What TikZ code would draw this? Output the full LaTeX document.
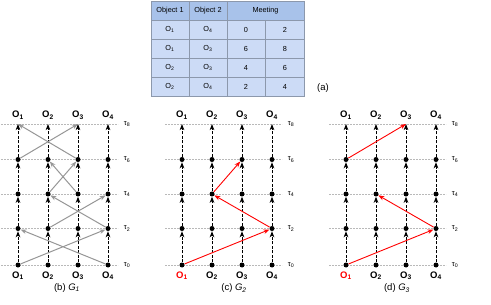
\documentclass[tikz,border=0pt]{standalone}
\usepackage{fontspec}
\setmainfont{Liberation Sans}
\usepackage{xcolor}
\definecolor{tbhead}{RGB}{168,194,234}
\definecolor{tbbody}{RGB}{204,219,246}
\definecolor{tbgrid}{RGB}{140,152,172}
\definecolor{meetgray}{RGB}{150,150,150}
\definecolor{tlgray}{RGB}{185,185,185}
\usepackage{tikz}
\usetikzlibrary{arrows.meta, positioning}

\begin{document}
\begin{tikzpicture}[x=1pt, y=-1pt,
    dot/.style={circle, fill=black, inner sep=0pt, minimum size=5pt},
    life/.style={black, line width=1pt, dash pattern=on 3pt off 1.5pt,
      -{Stealth[length=6pt, width=4.5pt, inset=1.5pt]}},
    tline/.style={tlgray, line width=0.5pt, dash pattern=on 2pt off 1pt},
    meetg/.style={meetgray, line width=1pt, -{Stealth[length=6pt, width=4.5pt]}},
    meetr/.style={red, line width=0.9pt, -{Stealth[length=6pt, width=4.5pt]}},
    objlab/.style={font=\fontsize{9.5}{10}\selectfont\bfseries, inner sep=0pt},
    taulab/.style={font=\fontsize{7.5}{8}\selectfont, inner sep=0pt},
    caplab/.style={font=\fontsize{9.5}{10}\selectfont, inner sep=0pt},
    cell/.style={font=\fontsize{7.3}{8}\selectfont, inner sep=0pt}]
  \useasboundingbox (0,0) rectangle (491,305);

  % --- (a) table of meetings ---
  \fill[tbhead] (151.5,1) rectangle (304,20);
  \fill[tbbody] (151.5,20) rectangle (304,96);
  \draw[tbgrid, line width=0.6pt] (151.5,20) -- (304,20);
  \draw[tbgrid, line width=0.6pt] (151.5,39) -- (304,39);
  \draw[tbgrid, line width=0.6pt] (151.5,58) -- (304,58);
  \draw[tbgrid, line width=0.6pt] (151.5,77) -- (304,77);
  \draw[tbgrid, line width=0.6pt] (189,1) -- (189,96);
  \draw[tbgrid, line width=0.6pt] (227,1) -- (227,96);
  \draw[tbgrid, line width=0.6pt] (265.5,20) -- (265.5,96);
  \draw[tbgrid, line width=0.8pt] (151.5,1) rectangle (304,96);
  \node[cell] (h1) at (170,10.5) {Object 1};
  \node[cell] (h2) at (208,10.5) {Object 2};
  \node[cell] (h3) at (265.5,10.5) {Meeting};
  \node[cell] (r1a) at (170,29.5) {O\textsubscript{1}};
  \node[cell] (r1b) at (208,29.5) {O\textsubscript{4}};
  \node[cell] (r1c) at (246,29.5) {0};
  \node[cell] (r1d) at (285,29.5) {2};
  \node[cell] (r2a) at (170,48.5) {O\textsubscript{1}};
  \node[cell] (r2b) at (208,48.5) {O\textsubscript{3}};
  \node[cell] (r2c) at (246,48.5) {6};
  \node[cell] (r2d) at (285,48.5) {8};
  \node[cell] (r3a) at (170,67.5) {O\textsubscript{2}};
  \node[cell] (r3b) at (208,67.5) {O\textsubscript{3}};
  \node[cell] (r3c) at (246,67.5) {4};
  \node[cell] (r3d) at (285,67.5) {6};
  \node[cell] (r4a) at (170,86.5) {O\textsubscript{2}};
  \node[cell] (r4b) at (208,86.5) {O\textsubscript{4}};
  \node[cell] (r4c) at (246,86.5) {2};
  \node[cell] (r4d) at (285,86.5) {4};
  \node[caplab] (tablab) at (323,88) {(a)};

  % --- time grids (b), (c), (d) ---
  \foreach \p/\dx/\fc in {b/0/black, c/164/red, d/328/red}{
    \foreach \t/\y in {0/265, 2/228.5, 4/194, 6/159.5, 8/124}{
      \draw[tline] (\dx+1,\y) -- (\dx+118,\y);
      \node[taulab] (\p tau\t) at (\dx+127,\y) {τ\textsubscript{\t}};
    }
    \foreach \o in {1,...,4}{
      \foreach \t/\y in {0/265, 2/228.5, 4/194, 6/159.5}
        \node[dot] (\p\o t\t) at (\dx+30*\o-12,\y) {};
      \coordinate (\p\o t8) at (\dx+30*\o-12,124);
      \node[objlab] (\p\o top) at (\dx+30*\o-12,115) {O\textsubscript{\o}};
      \foreach \a/\b in {0/2, 2/4, 4/6, 6/8}
        \draw[life] (\p\o t\a) -- (\p\o t\b);
    }
    \node[objlab, text=\fc] (\p1bot) at (\dx+18,275.5) {O\textsubscript{1}};
    \node[objlab] (\p2bot) at (\dx+48,275.5) {O\textsubscript{2}};
    \node[objlab] (\p3bot) at (\dx+78,275.5) {O\textsubscript{3}};
    \node[objlab] (\p4bot) at (\dx+108,275.5) {O\textsubscript{4}};
  }

  % (b) G1: every meeting, both ways
  \draw[meetg] (b1t0) -- (b4t2);
  \draw[meetg] (b4t0) -- (b1t2);
  \draw[meetg] (b2t2) -- (b4t4);
  \draw[meetg] (b4t2) -- (b2t4);
  \draw[meetg] (b2t4) -- (b3t6);
  \draw[meetg] (b3t4) -- (b2t6);
  \draw[meetg] (b1t6) -- (b3t8);
  \draw[meetg] (b3t6) -- (b1t8);
  \node[caplab] (capb) at (67,288) {(b) \textit{G}\textsubscript{\textit{1}}};

  % (c) G2
  \draw[meetr] (c1t0) -- (c4t2);
  \draw[meetr] (c4t2) -- (c2t4);
  \draw[meetr] (c2t4) -- (c3t6);
  \node[caplab] (capc) at (234,288) {(c) \textit{G}\textsubscript{\textit{2}}};

  % (d) G3
  \draw[meetr] (d1t0) -- (d4t2);
  \draw[meetr] (d4t2) -- (d2t4);
  \draw[meetr] (d1t6) -- (d3t8);
  \node[caplab] (capd) at (397,288) {(d) \textit{G}\textsubscript{\textit{3}}};
\end{tikzpicture}
\end{document}
